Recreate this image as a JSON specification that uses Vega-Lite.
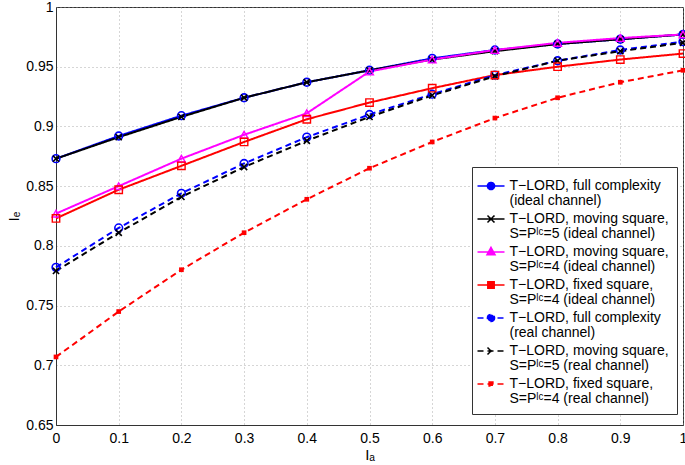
{
  "$schema": "https://vega.github.io/schema/vega-lite/v6.json",
  "width": 627,
  "height": 418,
  "autosize": "none",
  "padding": {"left": 56, "top": 7, "right": 2, "bottom": 40},
  "background": "white",
  "config": {
    "font": "Liberation Sans",
    "view": {"stroke": "#333", "strokeWidth": 1},
    "axis": {
      "labelFont": "Liberation Sans", "labelFontSize": 14, "labelColor": "#000",
      "titleFont": "Liberation Sans", "titleFontSize": 15, "titleColor": "#000", "titleFontWeight": "normal",
      "domainColor": "#333", "ticks": false,
      "gridColor": "#999", "gridDash": [1, 3], "gridOpacity": 0.8,
      "labelFlush": false, "labelOverlap": false
    },
    "legend": {
      "orient": "none", "legendX": 416, "legendY": 160,
      "labelFont": "Liberation Sans", "labelFontSize": 14, "labelColor": "#000", "labelLimit": 0,
      "symbolSize": 400, "symbolStrokeWidth": 1.5,
      "padding": 8, "rowPadding": 0, "labelOffset": 7.5,
      "strokeColor": "#333", "fillColor": "white"
    }
  },
  "data": {"values": [
    {"s": "T−LORD, full complexity|(ideal channel)", "x": 0, "y": 0.873},
    {"s": "T−LORD, full complexity|(ideal channel)", "x": 0.1, "y": 0.892},
    {"s": "T−LORD, full complexity|(ideal channel)", "x": 0.2, "y": 0.909},
    {"s": "T−LORD, full complexity|(ideal channel)", "x": 0.3, "y": 0.924},
    {"s": "T−LORD, full complexity|(ideal channel)", "x": 0.4, "y": 0.937},
    {"s": "T−LORD, full complexity|(ideal channel)", "x": 0.5, "y": 0.947},
    {"s": "T−LORD, full complexity|(ideal channel)", "x": 0.6, "y": 0.957},
    {"s": "T−LORD, full complexity|(ideal channel)", "x": 0.7, "y": 0.964},
    {"s": "T−LORD, full complexity|(ideal channel)", "x": 0.8, "y": 0.969},
    {"s": "T−LORD, full complexity|(ideal channel)", "x": 0.9, "y": 0.973},
    {"s": "T−LORD, full complexity|(ideal channel)", "x": 1, "y": 0.977},
    {"s": "T−LORD, moving square,|S=Pˡᶜ=5 (ideal channel)", "x": 0, "y": 0.873},
    {"s": "T−LORD, moving square,|S=Pˡᶜ=5 (ideal channel)", "x": 0.1, "y": 0.891},
    {"s": "T−LORD, moving square,|S=Pˡᶜ=5 (ideal channel)", "x": 0.2, "y": 0.908},
    {"s": "T−LORD, moving square,|S=Pˡᶜ=5 (ideal channel)", "x": 0.3, "y": 0.924},
    {"s": "T−LORD, moving square,|S=Pˡᶜ=5 (ideal channel)", "x": 0.4, "y": 0.937},
    {"s": "T−LORD, moving square,|S=Pˡᶜ=5 (ideal channel)", "x": 0.5, "y": 0.947},
    {"s": "T−LORD, moving square,|S=Pˡᶜ=5 (ideal channel)", "x": 0.6, "y": 0.956},
    {"s": "T−LORD, moving square,|S=Pˡᶜ=5 (ideal channel)", "x": 0.7, "y": 0.963},
    {"s": "T−LORD, moving square,|S=Pˡᶜ=5 (ideal channel)", "x": 0.8, "y": 0.969},
    {"s": "T−LORD, moving square,|S=Pˡᶜ=5 (ideal channel)", "x": 0.9, "y": 0.973},
    {"s": "T−LORD, moving square,|S=Pˡᶜ=5 (ideal channel)", "x": 1, "y": 0.977},
    {"s": "T−LORD, moving square,|S=Pˡᶜ=4 (ideal channel)", "x": 0, "y": 0.827},
    {"s": "T−LORD, moving square,|S=Pˡᶜ=4 (ideal channel)", "x": 0.1, "y": 0.850},
    {"s": "T−LORD, moving square,|S=Pˡᶜ=4 (ideal channel)", "x": 0.2, "y": 0.873},
    {"s": "T−LORD, moving square,|S=Pˡᶜ=4 (ideal channel)", "x": 0.3, "y": 0.893},
    {"s": "T−LORD, moving square,|S=Pˡᶜ=4 (ideal channel)", "x": 0.4, "y": 0.911},
    {"s": "T−LORD, moving square,|S=Pˡᶜ=4 (ideal channel)", "x": 0.5, "y": 0.946},
    {"s": "T−LORD, moving square,|S=Pˡᶜ=4 (ideal channel)", "x": 0.6, "y": 0.956},
    {"s": "T−LORD, moving square,|S=Pˡᶜ=4 (ideal channel)", "x": 0.7, "y": 0.964},
    {"s": "T−LORD, moving square,|S=Pˡᶜ=4 (ideal channel)", "x": 0.8, "y": 0.970},
    {"s": "T−LORD, moving square,|S=Pˡᶜ=4 (ideal channel)", "x": 0.9, "y": 0.974},
    {"s": "T−LORD, moving square,|S=Pˡᶜ=4 (ideal channel)", "x": 1, "y": 0.977},
    {"s": "T−LORD, fixed square,|S=Pˡᶜ=4 (ideal channel)", "x": 0, "y": 0.823},
    {"s": "T−LORD, fixed square,|S=Pˡᶜ=4 (ideal channel)", "x": 0.1, "y": 0.847},
    {"s": "T−LORD, fixed square,|S=Pˡᶜ=4 (ideal channel)", "x": 0.2, "y": 0.867},
    {"s": "T−LORD, fixed square,|S=Pˡᶜ=4 (ideal channel)", "x": 0.3, "y": 0.887},
    {"s": "T−LORD, fixed square,|S=Pˡᶜ=4 (ideal channel)", "x": 0.4, "y": 0.906},
    {"s": "T−LORD, fixed square,|S=Pˡᶜ=4 (ideal channel)", "x": 0.5, "y": 0.920},
    {"s": "T−LORD, fixed square,|S=Pˡᶜ=4 (ideal channel)", "x": 0.6, "y": 0.932},
    {"s": "T−LORD, fixed square,|S=Pˡᶜ=4 (ideal channel)", "x": 0.7, "y": 0.943},
    {"s": "T−LORD, fixed square,|S=Pˡᶜ=4 (ideal channel)", "x": 0.8, "y": 0.950},
    {"s": "T−LORD, fixed square,|S=Pˡᶜ=4 (ideal channel)", "x": 0.9, "y": 0.956},
    {"s": "T−LORD, fixed square,|S=Pˡᶜ=4 (ideal channel)", "x": 1, "y": 0.961},
    {"s": "T−LORD, full complexity|(real channel)", "x": 0, "y": 0.782},
    {"s": "T−LORD, full complexity|(real channel)", "x": 0.1, "y": 0.815},
    {"s": "T−LORD, full complexity|(real channel)", "x": 0.2, "y": 0.844},
    {"s": "T−LORD, full complexity|(real channel)", "x": 0.3, "y": 0.869},
    {"s": "T−LORD, full complexity|(real channel)", "x": 0.4, "y": 0.891},
    {"s": "T−LORD, full complexity|(real channel)", "x": 0.5, "y": 0.910},
    {"s": "T−LORD, full complexity|(real channel)", "x": 0.6, "y": 0.927},
    {"s": "T−LORD, full complexity|(real channel)", "x": 0.7, "y": 0.943},
    {"s": "T−LORD, full complexity|(real channel)", "x": 0.8, "y": 0.955},
    {"s": "T−LORD, full complexity|(real channel)", "x": 0.9, "y": 0.964},
    {"s": "T−LORD, full complexity|(real channel)", "x": 1, "y": 0.971},
    {"s": "T−LORD, moving square,|S=Pˡᶜ=5 (real channel)", "x": 0, "y": 0.779},
    {"s": "T−LORD, moving square,|S=Pˡᶜ=5 (real channel)", "x": 0.1, "y": 0.811},
    {"s": "T−LORD, moving square,|S=Pˡᶜ=5 (real channel)", "x": 0.2, "y": 0.841},
    {"s": "T−LORD, moving square,|S=Pˡᶜ=5 (real channel)", "x": 0.3, "y": 0.866},
    {"s": "T−LORD, moving square,|S=Pˡᶜ=5 (real channel)", "x": 0.4, "y": 0.888},
    {"s": "T−LORD, moving square,|S=Pˡᶜ=5 (real channel)", "x": 0.5, "y": 0.908},
    {"s": "T−LORD, moving square,|S=Pˡᶜ=5 (real channel)", "x": 0.6, "y": 0.926},
    {"s": "T−LORD, moving square,|S=Pˡᶜ=5 (real channel)", "x": 0.7, "y": 0.942},
    {"s": "T−LORD, moving square,|S=Pˡᶜ=5 (real channel)", "x": 0.8, "y": 0.955},
    {"s": "T−LORD, moving square,|S=Pˡᶜ=5 (real channel)", "x": 0.9, "y": 0.963},
    {"s": "T−LORD, moving square,|S=Pˡᶜ=5 (real channel)", "x": 1, "y": 0.970},
    {"s": "T−LORD, fixed square,|S=Pˡᶜ=4 (real channel)", "x": 0, "y": 0.707},
    {"s": "T−LORD, fixed square,|S=Pˡᶜ=4 (real channel)", "x": 0.1, "y": 0.745},
    {"s": "T−LORD, fixed square,|S=Pˡᶜ=4 (real channel)", "x": 0.2, "y": 0.780},
    {"s": "T−LORD, fixed square,|S=Pˡᶜ=4 (real channel)", "x": 0.3, "y": 0.811},
    {"s": "T−LORD, fixed square,|S=Pˡᶜ=4 (real channel)", "x": 0.4, "y": 0.839},
    {"s": "T−LORD, fixed square,|S=Pˡᶜ=4 (real channel)", "x": 0.5, "y": 0.865},
    {"s": "T−LORD, fixed square,|S=Pˡᶜ=4 (real channel)", "x": 0.6, "y": 0.887},
    {"s": "T−LORD, fixed square,|S=Pˡᶜ=4 (real channel)", "x": 0.7, "y": 0.907},
    {"s": "T−LORD, fixed square,|S=Pˡᶜ=4 (real channel)", "x": 0.8, "y": 0.924},
    {"s": "T−LORD, fixed square,|S=Pˡᶜ=4 (real channel)", "x": 0.9, "y": 0.937},
    {"s": "T−LORD, fixed square,|S=Pˡᶜ=4 (real channel)", "x": 1, "y": 0.947}
  ]},
  "encoding": {
    "x": {"field": "x", "type": "quantitative",
      "scale": {"domain": [0, 1], "nice": false, "zero": false},
      "axis": {"values": [0, 0.1, 0.2, 0.3, 0.4, 0.5, 0.6, 0.7, 0.8, 0.9, 1], "format": "~g", "labelPadding": 6, "title": "Iₐ", "titlePadding": 2}},
    "y": {"field": "y", "type": "quantitative",
      "scale": {"domain": [0.65, 1], "nice": false, "zero": false},
      "axis": {"values": [0.65, 0.7, 0.75, 0.8, 0.85, 0.9, 0.95, 1], "format": "~g", "labelPadding": 3, "title": "Iₑ", "titlePadding": 4}},
    "color": {"field": "s", "type": "nominal",
      "scale": {
        "domain": ["T−LORD, full complexity|(ideal channel)", "T−LORD, moving square,|S=Pˡᶜ=5 (ideal channel)", "T−LORD, moving square,|S=Pˡᶜ=4 (ideal channel)", "T−LORD, fixed square,|S=Pˡᶜ=4 (ideal channel)", "T−LORD, full complexity|(real channel)", "T−LORD, moving square,|S=Pˡᶜ=5 (real channel)", "T−LORD, fixed square,|S=Pˡᶜ=4 (real channel)"],
        "range": ["#0000ff", "#000000", "#ff00ff", "#ff0000", "#0000ff", "#000000", "#ff0000"]},
      "legend": {"title": null, "labelExpr": "split(datum.label, '|')",
        "encode": {"labels": {"update": {"lineHeight": {"value": 15}}}}}
    }
  },
  "layer": [
    {
      "transform": [{"filter": "false"}],
      "mark": {"type": "point", "filled": false, "strokeWidth": 1.5},
      "encoding": {
        "shape": {"field": "s", "type": "nominal",
          "legend": {"title": null, "labelExpr": "split(datum.label, '|')",
            "encode": {"labels": {"update": {"lineHeight": {"value": 15}}}}},
          "scale": {
            "domain": ["T−LORD, full complexity|(ideal channel)", "T−LORD, moving square,|S=Pˡᶜ=5 (ideal channel)", "T−LORD, moving square,|S=Pˡᶜ=4 (ideal channel)", "T−LORD, fixed square,|S=Pˡᶜ=4 (ideal channel)", "T−LORD, full complexity|(real channel)", "T−LORD, moving square,|S=Pˡᶜ=5 (real channel)", "T−LORD, fixed square,|S=Pˡᶜ=4 (real channel)"],
            "range": ["M-1.35,0H1.35M0.36,0A0.36,0.36,0,1,1,-0.36,0A0.36,0.36,0,1,1,0.36,0", "M-1.35,0H1.35M-0.35,-0.35L0.35,0.35M-0.35,0.35L0.35,-0.35", "M-1.35,0H1.35M0,-0.46L0.4,0.27L-0.4,0.27Z", "M-1.35,0H1.35M-0.32,-0.32H0.32V0.32H-0.32Z", "M-1.35,0H1.35M0.36,0A0.36,0.36,0,1,1,-0.36,0A0.36,0.36,0,1,1,0.36,0", "M-1.35,0H1.35M-0.35,-0.35L0.35,0.35M-0.35,0.35L0.35,-0.35", "M-1.35,0H1.35M-0.19,-0.19H0.19V0.19H-0.19ZM-0.1,-0.1H0.1V0.1H-0.1Z"]}}
      }
    },
    {
      "mark": {"type": "line", "strokeWidth": 2},
      "encoding": {
        "strokeDash": {"field": "s", "type": "nominal",
          "legend": {"title": null, "labelExpr": "split(datum.label, '|')",
            "encode": {"labels": {"update": {"lineHeight": {"value": 15}}}}},
          "scale": {
            "domain": ["T−LORD, full complexity|(ideal channel)", "T−LORD, moving square,|S=Pˡᶜ=5 (ideal channel)", "T−LORD, moving square,|S=Pˡᶜ=4 (ideal channel)", "T−LORD, fixed square,|S=Pˡᶜ=4 (ideal channel)", "T−LORD, full complexity|(real channel)", "T−LORD, moving square,|S=Pˡᶜ=5 (real channel)", "T−LORD, fixed square,|S=Pˡᶜ=4 (real channel)"],
            "range": [[1, 0], [1, 0], [1, 0], [1, 0], [6, 4], [6, 4], [6, 4]]}}
      }
    },
    {
      "transform": [{"filter": "test(/full complexity/, datum.s)"}],
      "mark": {"type": "point", "shape": "circle", "filled": false, "strokeWidth": 1.6, "size": 60, "opacity": 1}
    },
    {
      "transform": [{"filter": "test(/moving square.*=5/, datum.s)"}],
      "mark": {"type": "point", "shape": "M-0.8,-0.8L0.8,0.8M-0.8,0.8L0.8,-0.8", "filled": false, "strokeWidth": 1.6, "size": 60, "opacity": 1}
    },
    {
      "transform": [{"filter": "test(/moving square.*=4/, datum.s)"}],
      "mark": {"type": "point", "shape": "triangle-up", "filled": false, "strokeWidth": 1.4, "size": 60, "opacity": 1}
    },
    {
      "transform": [{"filter": "test(/fixed square.*ideal/, datum.s)"}],
      "mark": {"type": "point", "shape": "square", "filled": false, "strokeWidth": 1.4, "size": 55, "opacity": 1}
    },
    {
      "transform": [{"filter": "test(/fixed square.*real/, datum.s)"}],
      "mark": {"type": "square", "filled": true, "size": 22, "opacity": 1}
    }
  ]
}
